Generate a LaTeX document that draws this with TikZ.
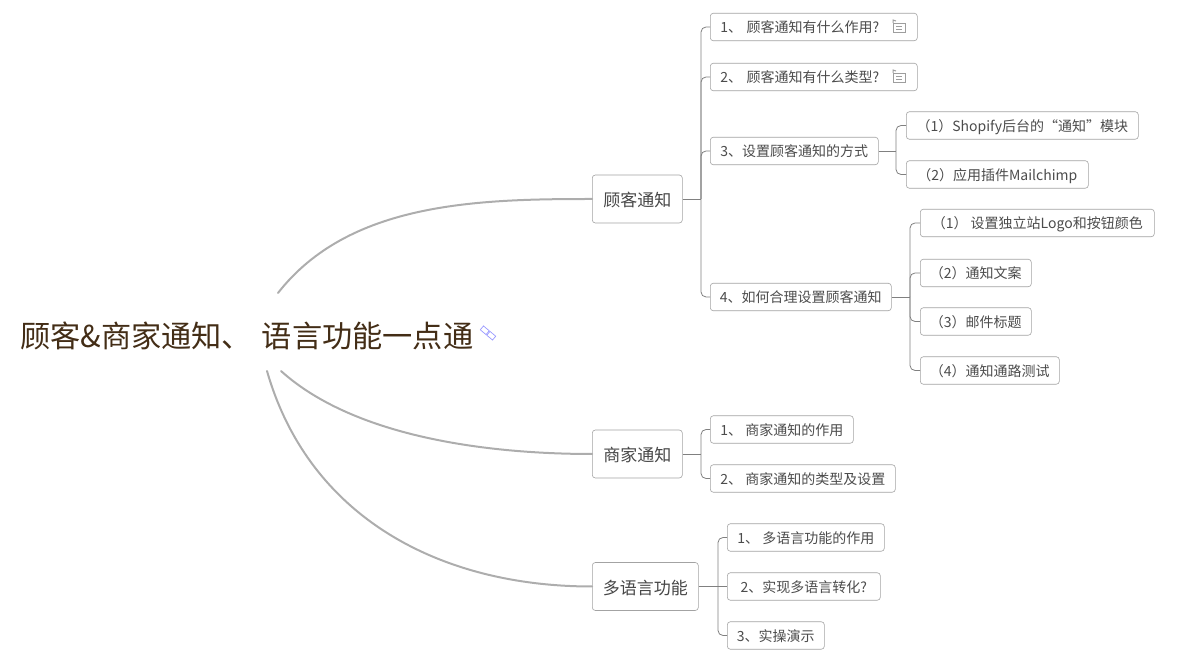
\documentclass[tikz,border=0pt]{standalone}
\usepackage{fontspec}
\setmainfont{Noto Sans CJK SC}

\tikzset{
    topic/.style={draw=black!36, line width=0.6pt, rounded corners=3pt, fill=white, anchor=west, text=black!72, font=\fontsize{17}{20}\selectfont, inner xsep=8pt, inner ysep=0pt, minimum height=48pt, text height=17pt, text depth=1pt},
    leaf/.style={draw=black!36, line width=0.6pt, rounded corners=3pt, fill=white, anchor=west, text=black!70, font=\fontsize{14}{16}\selectfont, inner xsep=6pt, inner ysep=0pt, minimum height=27.5pt, text height=13pt, text depth=1pt},
    branch/.style={draw=black!50, line width=0.8pt, rounded corners=5pt},
    stem/.style={draw=black!32, line width=2pt, line cap=round},
    noteicon/.pic={
        \draw[black!38, line width=0.6pt, fill=white] (-6,-5) rectangle (6,4);
        \draw[black!38, line width=0.6pt] (-3,1) -- (3,1) (-3,-2) -- (3,-2);
        \draw[black!38, line width=1pt] (-6,4) -- (-6,7) -- (-3,6);
    },
    linkicon/.pic={
        \draw[blue!40!white, line width=0.7pt, fill=white, rotate=-40] (-8,-2.5) rectangle (-0.5,2.5);
        \draw[blue!40!white, line width=0.7pt, fill=white, rotate=-40] (0.5,-2.5) rectangle (8,2.5);
    }
}

\begin{document}
\begin{tikzpicture}[x=1pt, y=1pt]
    \useasboundingbox (0,0) rectangle (1185,661);

    % Central title
    \node[anchor=west, inner sep=0pt, text=brown!35!black, font=\fontsize{30.2}{34}\selectfont] (root) at (20,325) {顾客\&商家通知、\hspace{3pt} 语言功能一点通};
    \pic at (488,328) {linkicon};
    \coordinate (rootA) at (278,368);
    \coordinate (rootB) at (281,290);
    \coordinate (rootC) at (267,290);

    % Main topics
    \node[topic, minimum width=90pt] (notifyCustomer) at (592,462) {顾客通知};
    \node[topic, minimum width=90pt] (notifyMerchant) at (592,207) {商家通知};
    \node[topic, minimum width=106pt] (language) at (592,74.5) {多语言功能};

    % Curves from the title
    \draw[stem] (rootA) to [out = 52, in = 180, looseness=0.9] (notifyCustomer.west);
    \draw[stem] (rootB) to [out = -42, in = 180, looseness=0.8] (notifyMerchant.west);
    \draw[stem] (rootC) to [out = -74, in = 180, looseness=1.0] (language.west);

    % First topic
    \node[leaf, inner xsep=10pt, text width=187pt, align=left] (customerA) at (710,634) {1、 顾客通知有什么作用?};
    \node[leaf, inner xsep=10pt, text width=187pt, align=left] (customerB) at (710,584) {2、 顾客通知有什么类型?};
    \node[leaf, minimum width=168pt] (customerC) at (710,510) {3、设置顾客通知的方式};
    \node[leaf, minimum width=181pt] (customerD) at (710,364) {4、如何合理设置顾客通知};
    \pic at (899,634) {noteicon};
    \pic at (899,584) {noteicon};

    \coordinate (busCustomer) at (701,462);
    \draw[branch] (notifyCustomer.east) -- (busCustomer);
    \foreach \n in {customerA, customerB, customerC, customerD}
        \draw[branch] (busCustomer) |- (\n.west);

    % Ways of setting up
    \node[leaf, minimum width=232pt] (wayA) at (906,535.5) {（1）Shopify后台的“通知”模块};
    \node[leaf, minimum width=182pt] (wayB) at (906,486.5) {（2）应用插件Mailchimp};
    \coordinate (busWay) at (896,510);
    \draw[branch] (customerC.east) -- (busWay);
    \foreach \n in {wayA, wayB}
        \draw[branch] (busWay) |- (\n.west);

    % Setting up sensibly
    \node[leaf, minimum width=234pt] (tipA) at (920,438) {（1） 设置独立站Logo和按钮颜色};
    \node[leaf, minimum width=111pt] (tipB) at (920,388) {（2）通知文案};
    \node[leaf, minimum width=111pt] (tipC) at (920,339.5) {（3）邮件标题};
    \node[leaf, minimum width=139pt] (tipD) at (920,290.5) {（4）通知通路测试};
    \coordinate (busTip) at (910,364);
    \draw[branch] (customerD.east) -- (busTip);
    \foreach \n in {tipA, tipB, tipC, tipD}
        \draw[branch] (busTip) |- (\n.west);

    % Second topic
    \node[leaf, minimum width=143pt] (merchantA) at (710,231.5) {1、 商家通知的作用};
    \node[leaf, minimum width=185pt] (merchantB) at (710,182.5) {2、 商家通知的类型及设置};
    \coordinate (busMerchant) at (701,207);
    \draw[branch] (notifyMerchant.east) -- (busMerchant);
    \foreach \n in {merchantA, merchantB}
        \draw[branch] (busMerchant) |- (\n.west);

    % Third topic
    \node[leaf, minimum width=157pt] (languageA) at (727,123.5) {1、 多语言功能的作用};
    \node[leaf, minimum width=153pt] (languageB) at (727,74.5) {2、实现多语言转化?};
    \node[leaf, minimum width=97pt] (languageC) at (727,25.5) {3、实操演示};
    \coordinate (busLanguage) at (718,74.5);
    \draw[branch] (language.east) -- (busLanguage);
    \foreach \n in {languageA, languageC}
        \draw[branch] (busLanguage) |- (\n.west);
    \draw[branch] (busLanguage) -- (languageB.west);
\end{tikzpicture}
\end{document}
